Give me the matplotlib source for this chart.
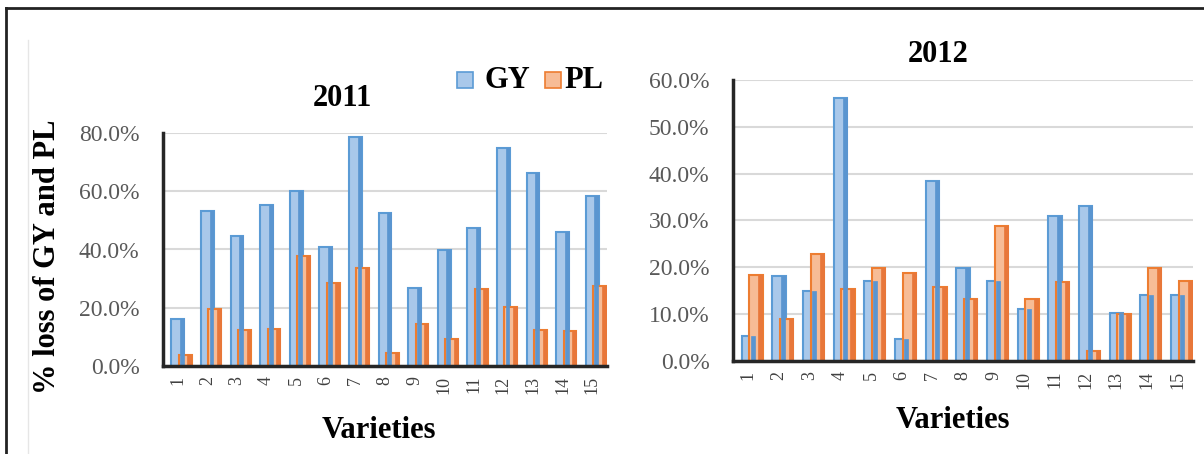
import matplotlib
matplotlib.use("Agg")
import matplotlib.pyplot as plt
import numpy as np
from matplotlib.patches import Rectangle
from matplotlib.lines import Line2D
from matplotlib.ticker import PercentFormatter

plt.rcParams['font.family'] = ['Liberation Serif', 'DejaVu Serif']

varieties = [str(i) for i in range(1, 16)]
gy_2011 = [16.0, 53.3, 44.5, 55.3, 60.2, 40.7, 78.6, 52.4, 26.9, 39.9, 47.4, 74.9, 66.4, 46.1, 58.4]
pl_2011 = [3.8, 19.4, 12.5, 12.7, 37.6, 28.4, 33.5, 4.3, 14.4, 9.2, 26.4, 20.1, 12.5, 12.0, 27.5]
gy_2012 = [5.4, 18.2, 15.0, 56.2, 17.1, 4.8, 38.4, 19.8, 17.1, 11.0, 31.0, 33.2, 10.2, 14.1, 14.1]
pl_2012 = [18.4, 8.9, 22.8, 15.4, 19.9, 18.7, 15.7, 13.3, 28.9, 13.3, 16.8, 2.1, 10.1, 19.9, 17.1]
series_names = ["GY", "PL"]
titles = ["2011", "2012"]

W, H = 1204, 454
fig = plt.figure(figsize=(W / 100, H / 100), dpi=100)

def fx(x):
    return x / W

def fy(y):
    return 1 - y / H

blue_face, blue_edge, blue_side = "#A9C8EA", "#5B9BD5", "#5A95D0"
org_face, org_edge, org_side = "#F7BC96", "#ED7D31", "#E8773A"

def draw(ax, gy, pl, ymax, ystep):
    x = np.arange(len(varieties))
    w = 0.43
    for vals, off, face, edge, side in [(gy, 0.0, blue_face, blue_edge, blue_side),
                                        (pl, 0.25, org_face, org_edge, org_side)]:
        v = np.array(vals) / 100.0
        ax.bar(x + off, v, width=w, color=face, edgecolor=edge, linewidth=1.5, zorder=3)
        ax.bar(x + off + w / 2 - 0.075, v, width=0.13, color=side, edgecolor=side,
               linewidth=0.5, zorder=4)
    ax.set_xlim(-0.5, len(varieties) - 0.5)
    ax.set_ylim(0, ymax)
    ax.set_yticks(np.arange(0, ymax + 1e-9, ystep))
    ax.yaxis.set_major_formatter(PercentFormatter(1.0, decimals=1))
    ax.set_xticks(x)
    ax.set_xticklabels(varieties, rotation=90, fontsize=13, color="#404040")
    ax.tick_params(axis='y', length=0, pad=17, labelsize=17, labelcolor="#595959")
    ax.tick_params(axis='x', length=0, pad=7)
    ax.grid(axis='y', color="#D9D9D9", linewidth=1.5, zorder=0)
    ax.set_axisbelow(True)
    for s in ["top", "right"]:
        ax.spines[s].set_visible(False)
    for s in ["left", "bottom"]:
        ax.spines[s].set_color("#262626")
        ax.spines[s].set_linewidth(2.5)
        ax.spines[s].set_zorder(5)

ax1 = fig.add_axes([fx(163), fy(366), fx(607 - 163), (366 - 133) / H])
draw(ax1, gy_2011, pl_2011, 0.8, 0.2)
ax2 = fig.add_axes([fx(733), fy(361), fx(1193 - 733), (361 - 80) / H])
draw(ax2, gy_2012, pl_2012, 0.6, 0.1)

# titles and labels
fig.text(fx(342), fy(99), titles[0], ha='center', va='center', fontsize=22, fontweight='bold')
fig.text(fx(938), fy(54), titles[1], ha='center', va='center', fontsize=22, fontweight='bold')
fig.text(fx(379), fy(430), "Varieties", ha='center', va='center', fontsize=22, fontweight='bold')
fig.text(fx(953), fy(421), "Varieties", ha='center', va='center', fontsize=22, fontweight='bold')
fig.text(fx(48), fy(257), "% loss of GY and PL", ha='center', va='center', rotation=90,
         fontsize=22, fontweight='bold')

# legend
for (x0, face, edge, name, tx) in [(457, blue_face, blue_edge, series_names[0], 484),
                                   (545, org_face, org_edge, series_names[1], 564)]:
    fig.patches.append(Rectangle((fx(x0), fy(88)), fx(16), 16 / H, transform=fig.transFigure,
                                 facecolor=face, edgecolor=edge, linewidth=1.2))
    fig.text(fx(tx), fy(80), name, ha='left', va='center', fontsize=22, fontweight='bold')

# outer frame
fig.add_artist(Line2D([fx(6), 1], [fy(8), fy(8)], transform=fig.transFigure, color="#222222", linewidth=2))
fig.add_artist(Line2D([fx(6), fx(6)], [fy(8), 0], transform=fig.transFigure, color="#222222", linewidth=2))
fig.add_artist(Line2D([fx(28), fx(28)], [fy(40), 0], transform=fig.transFigure, color="#E6E6E6", linewidth=1))

fig.savefig("out.png", dpi=100)
